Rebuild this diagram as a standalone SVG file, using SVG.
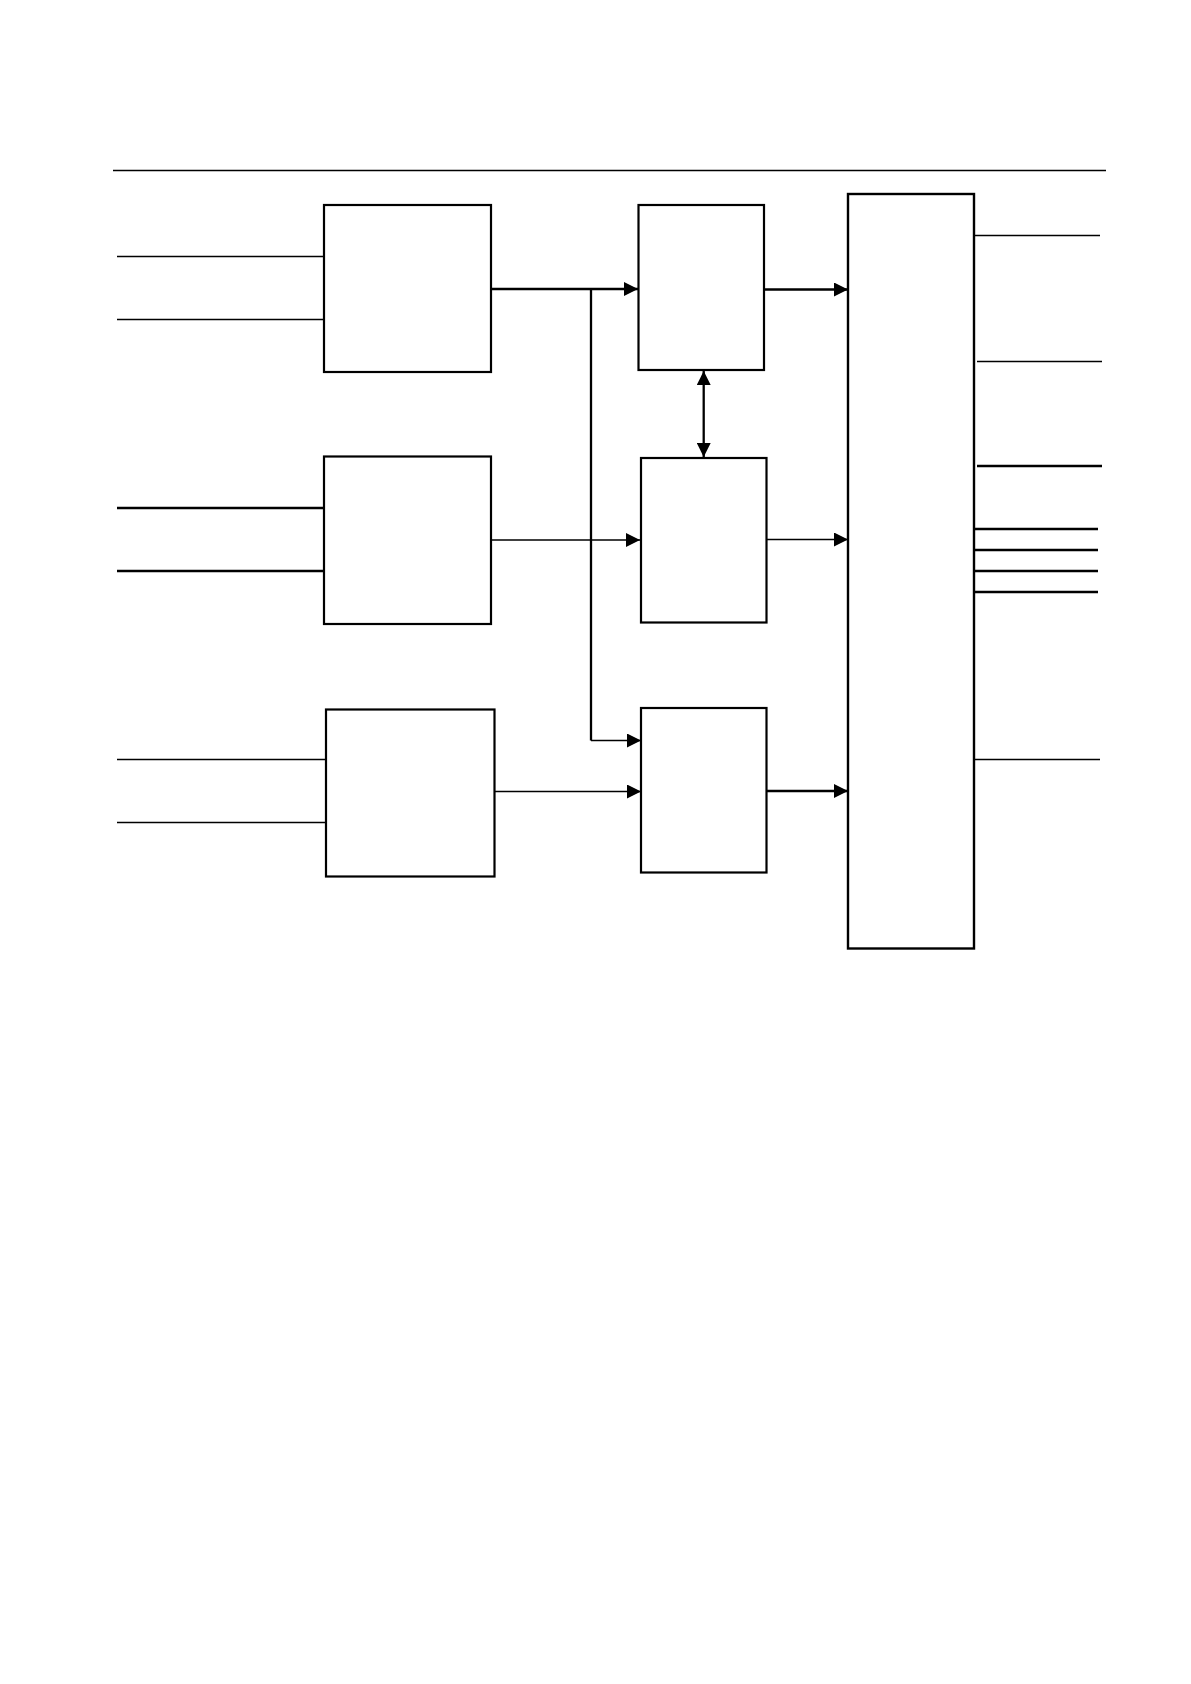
<svg xmlns="http://www.w3.org/2000/svg" width="1191" height="1684" viewBox="0 0 1191 1684">
<style>
.box{fill:#fff;stroke:#000;stroke-width:2.2}
.thin{stroke:#000;stroke-width:1.3;fill:none}
.thick{stroke:#000;stroke-width:2.3;fill:none}
</style>
<defs>
<marker id="ah" markerUnits="userSpaceOnUse" markerWidth="14" markerHeight="14" viewBox="0 0 14 14" refX="14" refY="7" orient="auto-start-reverse">
<path d="M0,0 L14,7 L0,14 z" fill="#000"/>
</marker>
</defs>
<rect width="1191" height="1684" fill="#fff"/>
<line x1="113" y1="170.5" x2="1106" y2="170.5" class="thin"/>
<g id="connectors">
<line x1="117" y1="256.5" x2="324" y2="256.5" class="thin"/>
<line x1="117" y1="319.5" x2="324" y2="319.5" class="thin"/>
<line x1="117" y1="508" x2="324" y2="508" class="thick"/>
<line x1="117" y1="571" x2="324" y2="571" class="thick"/>
<line x1="117" y1="759.5" x2="326" y2="759.5" class="thin"/>
<line x1="117" y1="822.5" x2="326" y2="822.5" class="thin"/>
<line x1="491" y1="289" x2="638" y2="289" class="thick" marker-end="url(#ah)"/>
<line x1="591" y1="288" x2="591" y2="740.5" class="thick"/>
<polyline points="591,740.5 641,740.5" class="thin" marker-end="url(#ah)"/>
<line x1="491" y1="540" x2="640" y2="540" class="thin" marker-end="url(#ah)"/>
<line x1="494" y1="791.5" x2="641" y2="791.5" class="thin" marker-end="url(#ah)"/>
<line x1="764" y1="289.5" x2="848" y2="289.5" class="thick" marker-end="url(#ah)"/>
<line x1="767" y1="539.5" x2="848" y2="539.5" class="thin" marker-end="url(#ah)"/>
<line x1="767" y1="791" x2="848" y2="791" class="thick" marker-end="url(#ah)"/>
<line x1="703.7" y1="371" x2="703.7" y2="457" class="thick" marker-start="url(#ah)" marker-end="url(#ah)"/>
<line x1="974" y1="235.5" x2="1100" y2="235.5" class="thin"/>
<line x1="977" y1="361.5" x2="1102" y2="361.5" class="thin"/>
<line x1="977" y1="466" x2="1102" y2="466" class="thick"/>
<line x1="972" y1="529" x2="1098" y2="529" class="thick"/>
<line x1="972" y1="550" x2="1098" y2="550" class="thick"/>
<line x1="972" y1="571" x2="1098" y2="571" class="thick"/>
<line x1="972" y1="592" x2="1098" y2="592" class="thick"/>
<line x1="974" y1="759.5" x2="1100" y2="759.5" class="thin"/>
</g>
<g id="nodeA"><rect class="box" x="324" y="205" width="167" height="167"/></g>
<g id="nodeB"><rect class="box" x="324" y="456.5" width="167" height="167.5"/></g>
<g id="nodeC"><rect class="box" x="326" y="709.5" width="168.5" height="167"/></g>
<g id="nodeB1"><rect class="box" x="638.5" y="205" width="125.5" height="165"/></g>
<g id="nodeB2"><rect class="box" x="641" y="458" width="125.5" height="164.5"/></g>
<g id="nodeB3"><rect class="box" x="641" y="708" width="125.5" height="164.5"/></g>
<g id="nodeMain"><rect class="box" x="848" y="194" width="126" height="754.5" style="stroke-width:2.4"/></g>
</svg>
